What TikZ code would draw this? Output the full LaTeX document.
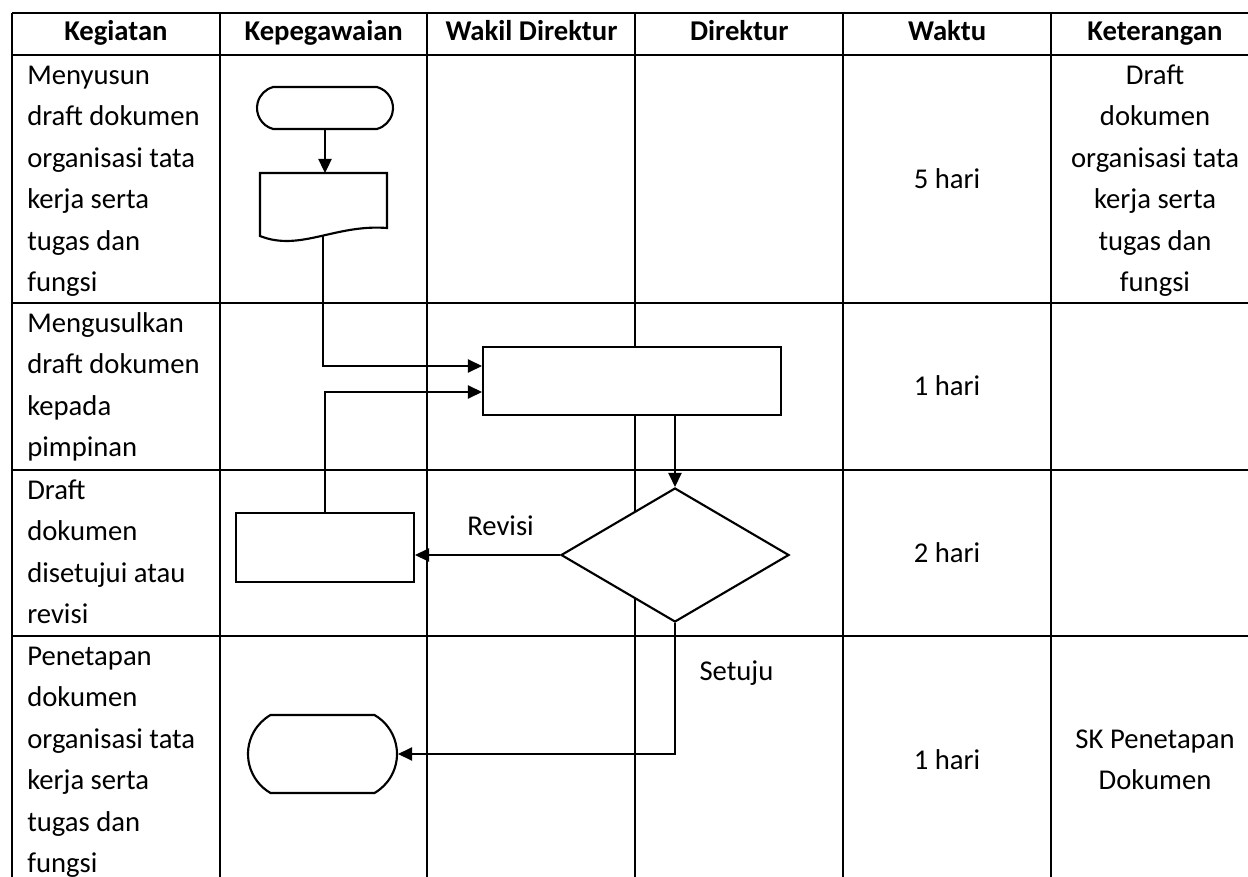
\documentclass[tikz,border=0pt]{standalone}
\usepackage{fontspec}
\setmainfont{Carlito}
\usetikzlibrary{shapes.geometric,shapes.misc,arrows.meta}
\newcommand\ukuran{\fontsize{21.5pt}{31.1pt}\selectfont}

\begin{document}
\begin{tikzpicture}[x=0.75pt,y=-0.75pt,font=\ukuran,
    garis/.style={line width=1.5pt},
    bentuk/.style={draw,line width=1.6pt,fill=white,inner sep=0},
    alur/.style={line width=0.8pt,-{Triangle[length=10.5pt,width=10pt]}},
    kiri/.style={anchor=north west,inner sep=0,text width=142pt,align=flush left,execute at begin node=\strut},
    tengah/.style={anchor=north,inner sep=0,text width=150pt,align=flush center,execute at begin node=\strut}]
  \useasboundingbox (0,0) rectangle (1248,877);
  \clip (0,0) rectangle (1248,877);
  % tabel
  \foreach \x in {12,220,427,635,843,1051,1259} \draw[garis] (\x,13) -- (\x,885);
  \foreach \y in {13,55,303,470,636,885} \draw[garis] (12,\y) -- (1259,\y);
  \foreach \judul [count=\i] in {Kegiatan,Kepegawaian,Wakil Direktur,Direktur,Waktu,Keterangan}
    \node[font=\ukuran\bfseries,anchor=base] (h\i) at (207.8*\i-91.9,41) {\judul};
  \node[kiri] (k1) at (27,55) {Menyusun\\draft dokumen\\organisasi tata\\kerja serta\\tugas dan\\fungsi};
  \node[kiri] (k2) at (27,303) {Mengusulkan\\draft dokumen\\kepada\\pimpinan};
  \node[kiri] (k3) at (27,470) {Draft\\dokumen\\disetujui atau\\revisi};
  \node[kiri] (k4) at (27,636) {Penetapan\\dokumen\\organisasi tata\\kerja serta\\tugas dan\\fungsi};
  \node (w1) at (947,179) {5 hari};
  \node (w2) at (947,386) {1 hari};
  \node (w3) at (947,553) {2 hari};
  \node (w4) at (947,760) {1 hari};
  \node[tengah] (ket1) at (1155,55) {Draft\\dokumen\\organisasi tata\\kerja serta\\tugas dan\\fungsi};
  \node[align=center] (ket4) at (1155,760) {SK Penetapan\\Dokumen};
  % bagan alir
  \node[bentuk,rounded rectangle,rounded rectangle arc length=150,minimum width=102pt,minimum height=31.5pt] (mulai) at (325,108) {};
  \draw[line width=1.6pt,fill=white] (260,173) -- (387,173) -- (387,228)
    .. controls (335,224) and (300,252) .. (260,236) -- cycle;
  \coordinate (dokatas) at (325,173);
  \coordinate (dokbawah) at (323,236);
  \node[bentuk,rectangle,minimum width=223.5pt,minimum height=51pt] (usul) at (632,381) {};
  \node[bentuk,diamond,minimum width=171pt,minimum height=100.5pt] (cek) at (675,555) {};
  \node[bentuk,rectangle,minimum width=133.5pt,minimum height=51.75pt] (perbaikan) at (325,547.5) {};
  \node[bentuk,rounded rectangle,rounded rectangle arc length=120,minimum width=111.75pt,minimum height=58.5pt] (selesai) at (322.5,754) {};
  \draw[alur] (mulai) -- (dokatas);
  \draw[alur] (dokbawah) |- ([yshift=11.25pt]usul.west);
  \draw[alur] (perbaikan.north) |- ([yshift=-8.25pt]usul.west);
  \draw[alur] (usul.south -| cek.north) -- (cek.north);
  \draw[alur] (cek.west) -- node[pos=0.41,above=14pt,inner sep=0] (lrevisi) {Revisi} (cek.west -| perbaikan.east);
  \draw[alur] (cek.south) |- node[pos=0.19,right=18pt,inner sep=0] (lsetuju) {Setuju} (selesai.east);
\end{tikzpicture}
\end{document}
